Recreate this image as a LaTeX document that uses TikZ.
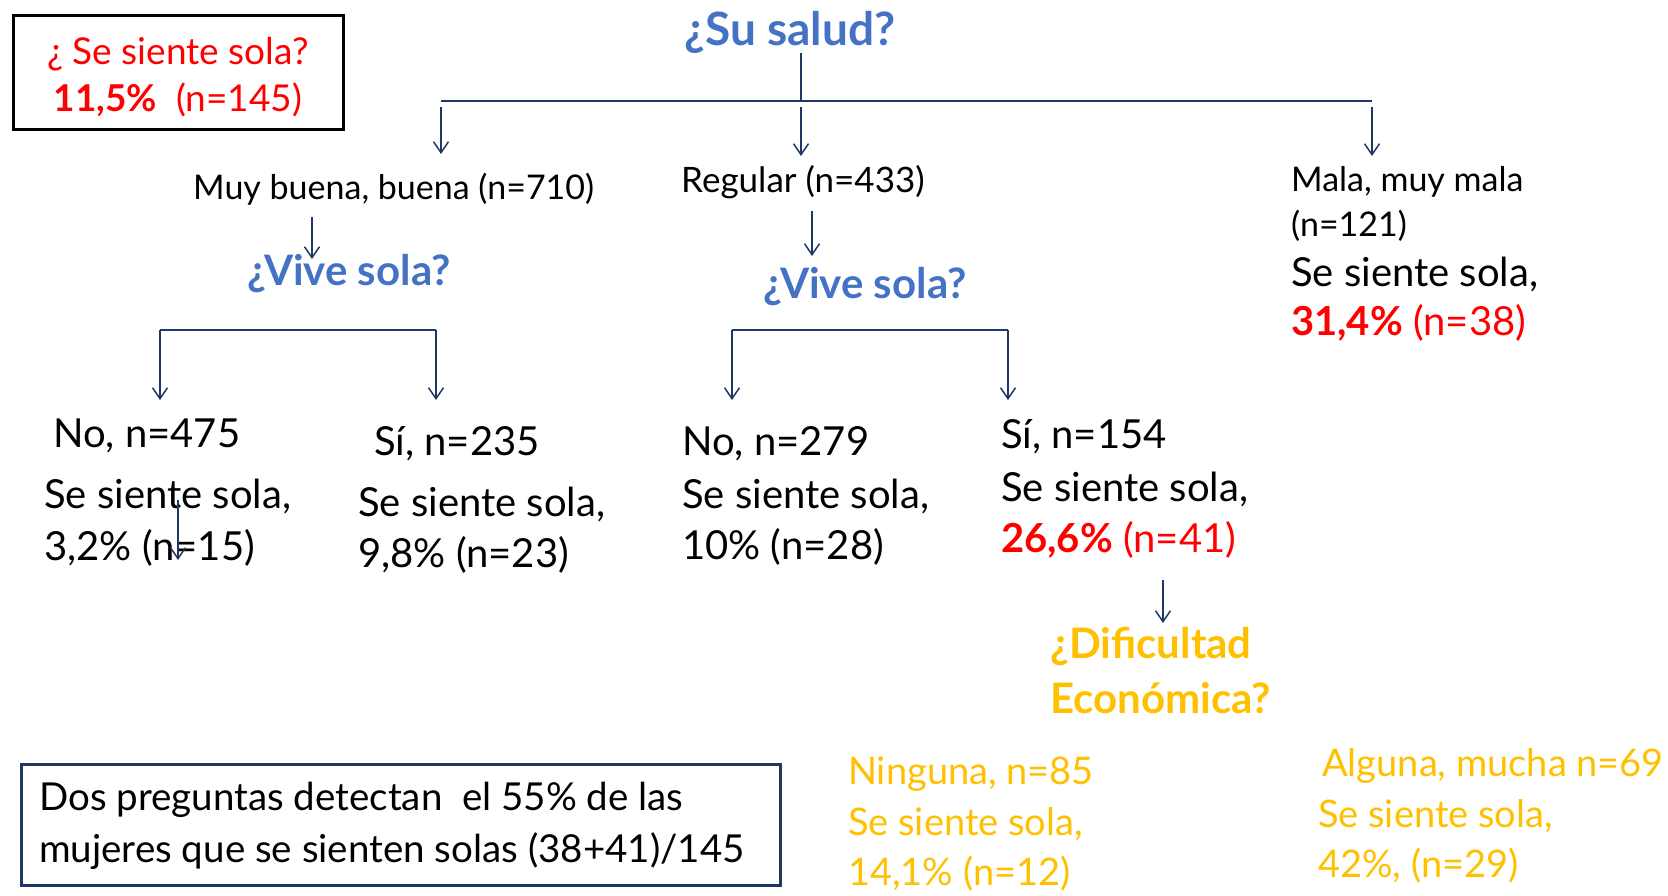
\documentclass[tikz,border=0pt]{standalone}
\usepackage{fontspec}
\setmainfont{Lato}
\usetikzlibrary{arrows.meta}
\definecolor{qblue}{HTML}{4472C4}
\definecolor{qred}{HTML}{FF0000}
\definecolor{qyellow}{HTML}{FFC000}
\definecolor{qnavy}{HTML}{1F3864}
\begin{document}
\begin{tikzpicture}[x=1pt,y=-1pt,
  txt/.style={anchor=west,inner sep=0pt,font=\fontsize{40}{48}\selectfont},
  smalltxt/.style={anchor=west,inner sep=0pt,font=\fontsize{34}{40}\selectfont},
  quest/.style={inner sep=0pt,font=\bfseries\fontsize{42}{48}\selectfont,text=qblue},
  yq/.style={anchor=west,inner sep=0pt,font=\bfseries\fontsize{42}{48}\selectfont,text=qyellow},
  ytxt/.style={anchor=west,inner sep=0pt,font=\fontsize{38}{46}\selectfont,text=qyellow},
  trunk/.style={draw=qnavy,line width=2.6pt},
  arr/.style={draw=qnavy,line width=1.5pt,-{Straight Barb[length=11pt,width=15pt,line width=1.5pt]}}]
\useasboundingbox (0,0) rectangle (1668,895);

% top-left box
\node[draw=black,line width=3pt,minimum width=330pt,minimum height=114pt,inner sep=0pt] (box1) at (178,72) {};
\node[inner sep=0pt,align=center,text=qred,font=\fontsize{37}{47}\selectfont] (box1t) at ([yshift=-5pt]box1.center) {¿ Se siente sola?\\\textbf{11,5\%}\ \ (n=145)};

% root
\node[quest,font=\bfseries\fontsize{46}{52}\selectfont] (salud) at (790,32) {¿Su salud?};
\coordinate (hub) at (801,101);
\coordinate (hl) at (441,101);
\coordinate (hr) at (1372,101);
\draw[trunk] (hub |- salud.south) -- (hub);
\draw[trunk] (hl) -- (hr);
\coordinate (a1s) at (441,107); \coordinate (a1e) at (441,154);
\coordinate (a2s) at (801,107); \coordinate (a2e) at (801,156);
\coordinate (a3s) at (1372,107); \coordinate (a3e) at (1372,156);
\draw[arr] (a1s) -- (a1e);
\draw[arr] (a2s) -- (a2e);
\draw[arr] (a3s) -- (a3e);

% level 1
\node[smalltxt] (muy) at (193,189) {Muy buena, buena (n=710)};
\node[smalltxt,font=\fontsize{35}{40}\selectfont] (reg) at (681,182) {Regular (n=433)};
\node[smalltxt] (mala1) at (1291,182) {Mala, muy mala};
\node[smalltxt] (mala2) at (1291,226) {(n=121)};
\node[txt] (mala3) at (1291,274) {Se siente sola,};
\node[txt,text=qred] (mala4) at (1291,323) {\textbf{31,4\%} (n=38)};

\coordinate (b1s) at (312,217); \coordinate (b1e) at (312,259);
\coordinate (b2s) at (812,211); \coordinate (b2e) at (812,256);
\draw[arr] (b1s) -- (b1e);
\draw[arr] (b2s) -- (b2e);

\node[quest] (vive1) at (349,274) {¿Vive sola?};
\node[quest] (vive2) at (865,287) {¿Vive sola?};

% brackets
\coordinate (l1) at (160,330); \coordinate (l2) at (436,330);
\coordinate (r1) at (732,330); \coordinate (r2) at (1008,330);
\coordinate (l1e) at (160,400); \coordinate (l2e) at (436,400);
\coordinate (r1e) at (732,400); \coordinate (r2e) at (1008,400);
\draw[trunk] (l1) -- (l2);
\draw[trunk] (r1) -- (r2);
\draw[arr] (l1) -- (l1e);
\draw[arr] (l2) -- (l2e);
\draw[arr] (r1) -- (r1e);
\draw[arr] (r2) -- (r2e);

% level 3
\node[txt] (no1a) at (53,436) {No, n=475};
\node[txt] (no1b) at (44,496) {Se siente sola,};
\node[txt] (no1c) at (44,548) {3,2\% (n=15)};
\node[txt] (si1a) at (374,444) {Sí, n=235};
\node[txt] (si1b) at (358,504) {Se siente sola,};
\node[txt] (si1c) at (358,555) {9,8\% (n=23)};
\node[txt] (no2a) at (682,444) {No, n=279};
\node[txt] (no2b) at (682,496) {Se siente sola,};
\node[txt] (no2c) at (682,547) {10\% (n=28)};
\node[txt] (si2a) at (1001,437) {Sí, n=154};
\node[txt] (si2b) at (1001,489) {Se siente sola,};
\node[txt,text=qred] (si2c) at (1001,540) {\textbf{26,6\%} (n=41)};

\coordinate (sts) at (178,500); \coordinate (ste) at (178,560);
\draw[arr] (sts) -- (ste);

\coordinate (c1s) at (1163,580); \coordinate (c1e) at (1163,623);
\draw[arr] (c1s) -- (c1e);

\node[yq] (dif1) at (1050,647) {¿Dificultad};
\node[yq] (dif2) at (1050,698) {Económica?};

\node[ytxt] (nin1) at (848,774) {Ninguna, n=85};
\node[ytxt] (nin2) at (848,824) {Se siente sola,};
\node[ytxt] (nin3) at (848,874) {14,1\% (n=12)};
\node[ytxt] (alg1) at (1322,766) {Alguna, mucha n=69};
\node[ytxt] (alg2) at (1318,816) {Se siente sola,};
\node[ytxt] (alg3) at (1318,866) {42\%, (n=29)};

% bottom box
\node[draw=qnavy,line width=3pt,minimum width=759pt,minimum height=121pt,inner sep=0pt] (box2) at (400.5,824.5) {};
\node[txt,font=\fontsize{38.5}{48}\selectfont] (sum1) at (39,800) {Dos preguntas detectan\ \ el 55\% de las};
\node[txt,font=\fontsize{38.5}{48}\selectfont] (sum2) at (39,851) {mujeres que se sienten solas (38+41)/145};
\end{tikzpicture}
\end{document}
